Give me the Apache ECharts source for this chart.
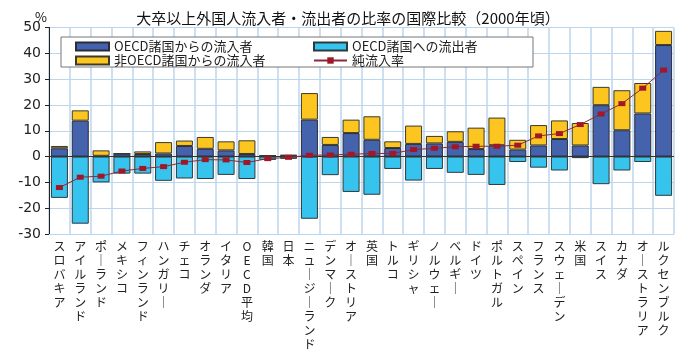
<!DOCTYPE html>
<html><head><meta charset="utf-8">
<script src="https://cdn.jsdelivr.net/npm/echarts@6/dist/echarts.min.js"></script>
<style>html,body{margin:0;padding:0;background:#fff}#c{width:677px;height:351px}</style>
</head><body><div id="c"></div>
<script>
const categories = ['スロバキア','アイルランド','ポーランド','メキシコ','フィンランド','ハンガリー','チェコ','オランダ','イタリア','OECD平均','韓国','日本','ニュージーランド','デンマーク','オーストリア','英国','トルコ','ギリシャ','ノルウェー','ベルギー','ドイツ','ポルトガル','スペイン','フランス','スウェーデン','米国','スイス','カナダ','オーストラリア','ルクセンブルク'];
const inflowOECD = [3.2,13.9,0.3,1.1,1.0,1.2,4.1,3.0,2.4,1.0,0.3,0.4,14.3,4.5,9.1,6.5,3.3,4.9,5.1,5.7,2.9,4.4,2.7,4.3,6.8,4.3,19.9,10.2,16.7,43.2];
const inflowNonOECD = [0.9,4.0,2.1,0.1,1.0,4.4,2.1,4.6,3.5,5.3,0.2,0.2,10.3,3.1,5.2,9.1,2.6,7.1,2.9,4.1,8.3,10.7,3.8,7.9,7.2,8.7,7.1,15.5,11.8,5.5];
const outflowOECD = [-16.0,-26.0,-10.0,-6.6,-6.6,-9.4,-8.5,-8.7,-7.1,-8.7,-1.3,-0.9,-24.1,-7.2,-13.7,-14.8,-4.8,-9.3,-4.8,-6.3,-7.1,-11.0,-2.1,-4.3,-5.4,-0.6,-10.7,-5.4,-2.1,-15.2];
const netRate = [-12.0,-8.0,-7.6,-5.6,-4.6,-3.9,-2.2,-1.2,-1.3,-2.3,-0.8,-0.3,0.5,0.6,0.9,1.2,1.2,2.7,3.2,3.8,4.0,4.0,4.4,8.0,8.9,12.4,16.5,20.5,26.5,33.5];
const seriesNames = ['OECD諸国からの流入者','OECD諸国への流出者','非OECD諸国からの流入者','純流入率'];
const titleText = '大卒以上外国人流入者・流出者の比率の国際比較（2000年頃）';
const unitText = '%';

const FONT = '"Noto Sans CJK JP", sans-serif';
const GRID = '#bcd6ee';
const chart = echarts.init(document.getElementById('c'), null, {renderer:'canvas'});
const legendCommon = {itemWidth:33, itemHeight:8, itemGap:10, textStyle:{fontFamily:FONT, fontSize:13, color:'#222'}, z:6, selectedMode:false};
chart.setOption({
  animation:false,
  backgroundColor:'#fff',
  title:[
    {text:titleText, left:343, top:6, textAlign:'center', textStyle:{fontFamily:FONT, fontSize:15, fontWeight:'normal', color:'#111'}},
    {text:unitText, left:30, top:6, textStyle:{fontFamily:FONT, fontSize:13, fontWeight:'normal', color:'#111'}}
  ],
  graphic:[{type:'rect', z:5, shape:{x:61, y:37, width:472, height:30}, style:{fill:'#fff', stroke:'#777', lineWidth:1}}],
  legend:[
    Object.assign({data:[{name:seriesNames[0], icon:'rect'}], left:70, top:35}, legendCommon),
    Object.assign({data:[{name:seriesNames[1], icon:'rect'}], left:308, top:35}, legendCommon),
    Object.assign({data:[{name:seriesNames[2], icon:'rect'}], left:70, top:49}, legendCommon),
    Object.assign({data:[seriesNames[3]], left:308, top:49}, legendCommon)
  ],
  grid:{left:49, right:3, top:27.5, bottom:105, containLabel:false},
  xAxis:{
    type:'category', data:categories, boundaryGap:true,
    axisLine:{show:true, onZero:false, lineStyle:{color:GRID}},
    axisTick:{show:false},
    splitLine:{show:true, interval:0, lineStyle:{color:GRID, width:1.5}},
    axisLabel:{interval:0, margin:5, fontFamily:FONT, fontSize:12, lineHeight:14, color:'#222', verticalAlign:'top',
      formatter:v=>v.split('').map(c=>c==='ー'?'｜':c).join('\n')}
  },
  yAxis:{
    type:'value', min:-30, max:50, interval:10,
    axisLine:{show:true, lineStyle:{color:'#222'}},
    axisTick:{show:true, length:4, lineStyle:{color:'#222'}},
    splitLine:{show:true, lineStyle:{color:GRID, width:1}},
    axisLabel:{margin:8, fontFamily:'"DejaVu Sans", sans-serif', fontSize:14, color:'#222'}
  },
  series:[
    {name:seriesNames[0], type:'bar', stack:'a', data:inflowOECD, barWidth:17,
     itemStyle:{color:'#4562ad', borderColor:'#2b2b3a', borderWidth:1},
     markLine:{silent:true, symbol:['none','none'], label:{show:false}, lineStyle:{color:'#333', width:1, type:'solid'}, data:[{yAxis:0}]}},
    {name:seriesNames[1], type:'bar', stack:'a', data:outflowOECD, barWidth:17,
     itemStyle:{color:'#36c4ef', borderColor:'#2b3a3a', borderWidth:1}},
    {name:seriesNames[2], type:'bar', stack:'a', data:inflowNonOECD, barWidth:17,
     itemStyle:{color:'#fcc51f', borderColor:'#3a3a2b', borderWidth:1}},
    {name:seriesNames[3], type:'line', data:netRate, symbol:'rect', symbolSize:[7,5],
     lineStyle:{color:'#8a2a3a', width:1}, itemStyle:{color:'#a01828'}, z:5}
  ]
});
</script></body></html>
